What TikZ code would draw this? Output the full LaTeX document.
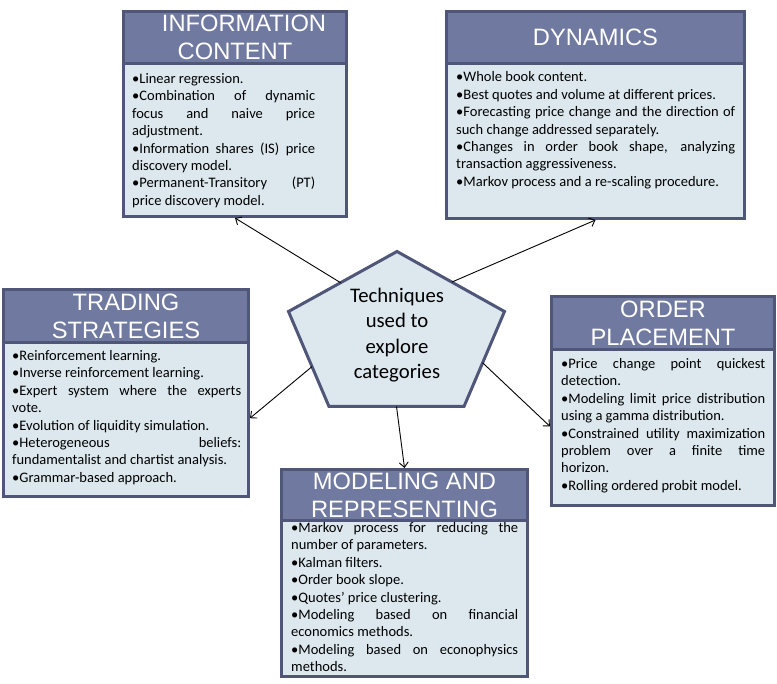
\documentclass[tikz,border=0pt]{standalone}
\usepackage{fontspec}
\setmainfont{Carlito}
\newfontfamily\headfont{Liberation Sans}
\usepackage{tikz}
\usetikzlibrary{positioning,calc,arrows.meta}

\definecolor{catBorder}{HTML}{505678}
\definecolor{catHead}{HTML}{7079A0}
\definecolor{catBody}{HTML}{DCE8EE}

\begin{document}
\begin{tikzpicture}[x=1pt,y=-1pt,inner sep=0pt,
  >={Straight Barb[length=5pt,width=9pt]},
  catbox/.style={draw=catBorder,fill=catBody,line width=3pt},
  cathead/.style={draw=catBorder,fill=catHead,line width=3pt,text=white,
    align=center,font=\headfont\fontsize{23.7}{28.3}\selectfont},
  cattext/.style={text width=#1,align=justify,anchor=base west,
    font=\fontsize{14.5}{17.4}\selectfont,
    execute at begin node={\parindent=0pt\hyphenpenalty=10000\exhyphenpenalty=10000\tolerance=10000}},
  techtext/.style={align=center,font=\fontsize{20.7}{25.6}\selectfont},
  link/.style={line width=0.9pt}]
\useasboundingbox (0,0) rectangle (777,684);

% information content
\node[catbox,minimum width=223,minimum height=205] (info) at (235,114) {};
\node[cathead,minimum width=223,minimum height=52,anchor=north] (infoHead) at (info.north)
  {\hspace*{18pt}INFORMATION\\CONTENT};
\node[below right=18.5pt and 10pt of infoHead.south west,cattext=183] (infoText)
  {•Linear regression.\\
   •Combination of dynamic\linebreak focus and naive price\linebreak adjustment.\\
   •Information shares (IS) price\linebreak discovery model.\\
   •Permanent-Transitory (PT)\linebreak price discovery model.};

% dynamics
\node[catbox,minimum width=298,minimum height=207] (dyn) at (595.5,115) {};
\node[cathead,minimum width=298,minimum height=52,anchor=north] (dynHead) at (dyn.north)
  {DYNAMICS};
\node[below right=17pt and 11pt of dynHead.south west,cattext=279] (dynText)
  {•Whole book content.\\
   •Best quotes and volume at different prices.\\
   •Forecasting price change and the direction of\linebreak such change addressed separately.\\
   •Changes in order book shape, analyzing\linebreak transaction aggressiveness.\\
   •Markov process and a re-scaling procedure.};

% trading strategies
\node[catbox,minimum width=245,minimum height=207] (trade) at (126,393) {};
\node[cathead,minimum width=245,minimum height=53,anchor=north] (tradeHead) at (trade.north)
  {TRADING\\STRATEGIES};
\node[below right=16.5pt and 10pt of tradeHead.south west,cattext=229] (tradeText)
  {•Reinforcement learning.\\
   •Inverse reinforcement learning.\\
   •Expert system where the experts\linebreak vote.\\
   •Evolution of liquidity simulation.\\
   •Heterogeneous beliefs:\linebreak fundamentalist and chartist analysis.\\
   •Grammar-based approach.};

% order placement
\node[catbox,minimum width=223,minimum height=209] (order) at (663,401) {};
\node[cathead,minimum width=223,minimum height=53,anchor=north] (orderHead) at (order.north)
  {ORDER\\PLACEMENT};
\node[below right=17.5pt and 11pt of orderHead.south west,cattext=204] (orderText)
  {•Price change point quickest\linebreak detection.\\
   •Modeling limit price distribution\linebreak using a gamma distribution.\\
   •Constrained utility maximization\linebreak problem over a finite time\linebreak horizon.\\
   •Rolling ordered probit model.};

% modeling and representing
\node[catbox,minimum width=246,minimum height=207] (model) at (404.5,573) {};
\node[cathead,minimum width=246,minimum height=51,anchor=north] (modelHead) at (model.north)
  {MODELING AND\\REPRESENTING};
\node[below right=10.5pt and 11pt of modelHead.south west,cattext=227] (modelText)
  {•Markov process for reducing the\linebreak number of parameters.\\
   •Kalman filters.\\
   •Order book slope.\\
   •Quotes’ price clustering.\\
   •Modeling based on financial\linebreak economics methods.\\
   •Modeling based on econophysics\linebreak methods.};

% techniques pentagon
\coordinate (pTop) at (397,251.5);
\coordinate (pRight) at (504.5,311.5);
\coordinate (pLowRight) at (464,406.5);
\coordinate (pLowLeft) at (329,406.5);
\coordinate (pLeft) at (288.5,311.5);
\draw[draw=catBorder,fill=catBody,line width=3pt,line join=miter]
  (pTop) -- (pRight) -- (pLowRight) -- (pLowLeft) -- (pLeft) -- cycle;
\node[techtext] (tech) at (397,335) {Techniques\\used to\\explore\\categories};

\coordinate (toInfo) at ($(pLeft)!0.48!(pTop)$);
\coordinate (toDyn) at ($(pTop)!0.51!(pRight)$);
\coordinate (toOrder) at ($(pRight)!0.54!(pLowRight)$);
\coordinate (toModel) at ($(pLowLeft)!0.5!(pLowRight)$);
\coordinate (toTrade) at ($(pLowLeft)!0.42!(pLeft)$);
\coordinate (tradeIn) at ($(trade.north east)!0.62!(trade.south east)$);
\coordinate (orderIn) at ($(order.north west)!0.62!(order.south west)$);

\path (toInfo) edge [->,link] (info.south);
\path (toDyn) edge [->,link] (dyn.south);
\path (toTrade) edge [->,link] (tradeIn);
\path (toOrder) edge [->,link] (orderIn);
\path (toModel) edge [->,link] (model.north);

\end{tikzpicture}
\end{document}
